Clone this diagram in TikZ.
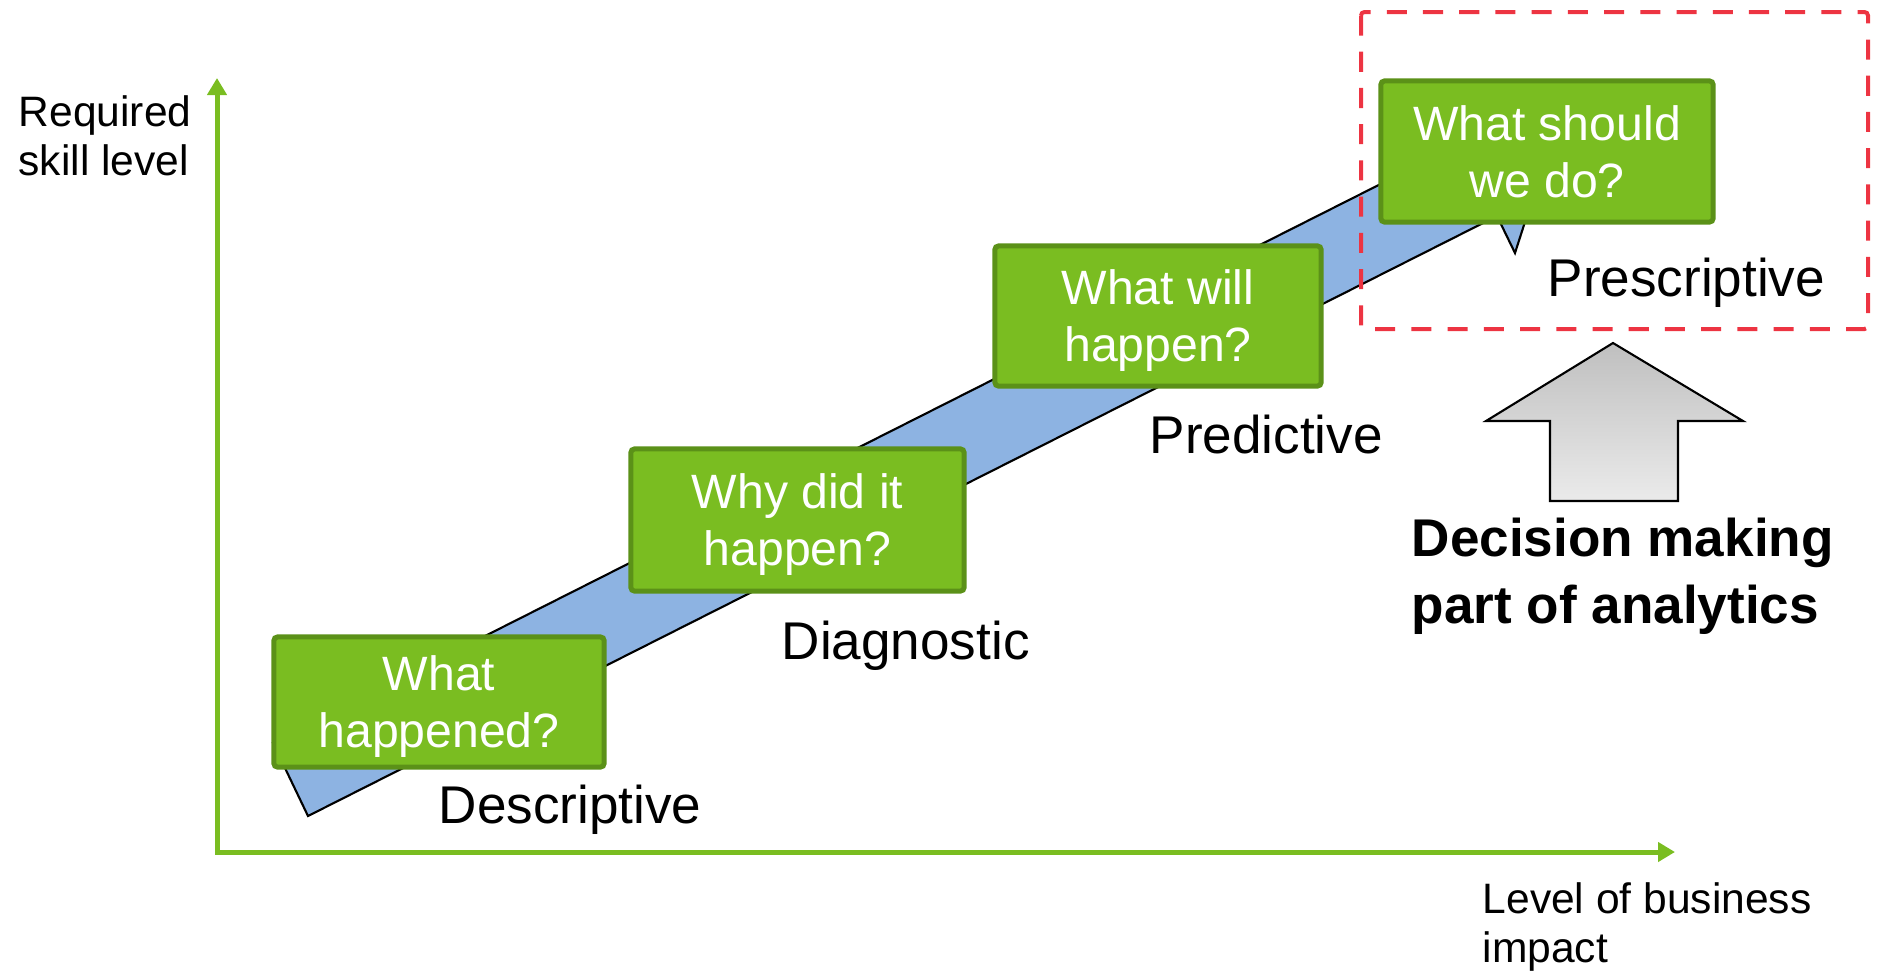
\documentclass[tikz,border=0pt]{standalone}
\usepackage{fontspec}
\setmainfont{Liberation Sans}
\usepackage{tikz}
\usetikzlibrary{arrows.meta}

\definecolor{qgreen}{RGB}{122,189,33}
\definecolor{qedge}{RGB}{91,145,24}
\definecolor{bandblue}{RGB}{141,179,226}
\definecolor{boxred}{RGB}{237,52,66}

\begin{document}
\begin{tikzpicture}[x=0.01cm,y=-0.01cm,
                question/.style={draw=qedge,line width=0.05cm,fill=qgreen,rounded corners=1pt,
                    text=white,align=center,font=\fontsize{13.7pt}{16.2pt}\selectfont,text depth=0pt,
                    minimum width=3.3cm,minimum height=1.4cm},
                stage/.style={anchor=base west,inner sep=0pt,font=\fontsize{15.1pt}{17pt}\selectfont},
                axislabel/.style={anchor=base west,inner sep=0pt,align=left,
                    font=\fontsize{12.1pt}{13.8pt}\selectfont},
                axis/.style={draw=qgreen,line width=0.05cm,
                    {Triangle[length=0.17cm,width=0.19cm]}-{Triangle[length=0.17cm,width=0.19cm]}}]
                \useasboundingbox (0,0) rectangle (1878,975);

                \coordinate (ytop) at (217,78);
                \coordinate (origin) at (217,852);
                \coordinate (xend) at (1675,852);
                \draw[axis] (ytop) -- (origin) -- (xend);

                \node[axislabel] (skill) at (18,175) {Required\\skill level};
                \node[axislabel] (impact) at (1482,962) {Level of business\\impact};

                \draw[fill=bandblue,line width=0.6pt] (273,743) -- (308,816) -- (1497,216)
                    -- (1515,253) -- (1550,144) -- (1442,107) -- (1460.5,143.7) -- cycle;

                \node[question,minimum height=1.3cm] (what) at (439,702) {What\\happened?};
                \node[stage] (descr) at (438,823) {Descriptive};

                \node[question,minimum width=3.33cm,minimum height=1.42cm] (why) at (797.5,520) {Why did it\\happen?};
                \node[stage] (diagn) at (781,659) {Diagnostic};

                \node[question,minimum width=3.26cm] (will) at (1158,316) {What will\\happen?};
                \node[stage] (predi) at (1149,453) {Predictive};

                \node[question,minimum width=3.32cm,minimum height=1.41cm] (should) at (1547,151.5) {What should\\we do?};
                \node[stage] (presc) at (1547,296) {Prescriptive};

                \draw[boxred,line width=0.04cm,dash pattern=on 5.7pt off 4.6pt,rounded corners=1pt]
                    (1361,12) rectangle (1868,329);

                \draw[line width=0.6pt,top color=black!25,bottom color=black!8]
                    (1613,343) -- (1743,421) -- (1678,421) -- (1678,501) -- (1550,501)
                    -- (1550,421) -- (1486,421) -- cycle;

                \node[anchor=base west,inner sep=0pt,align=left,
                    font=\fontsize{15.1pt}{18.8pt}\selectfont\bfseries] (decide) at (1411,623)
                    {Decision making\\part of analytics};
            \end{tikzpicture}
\end{document}
